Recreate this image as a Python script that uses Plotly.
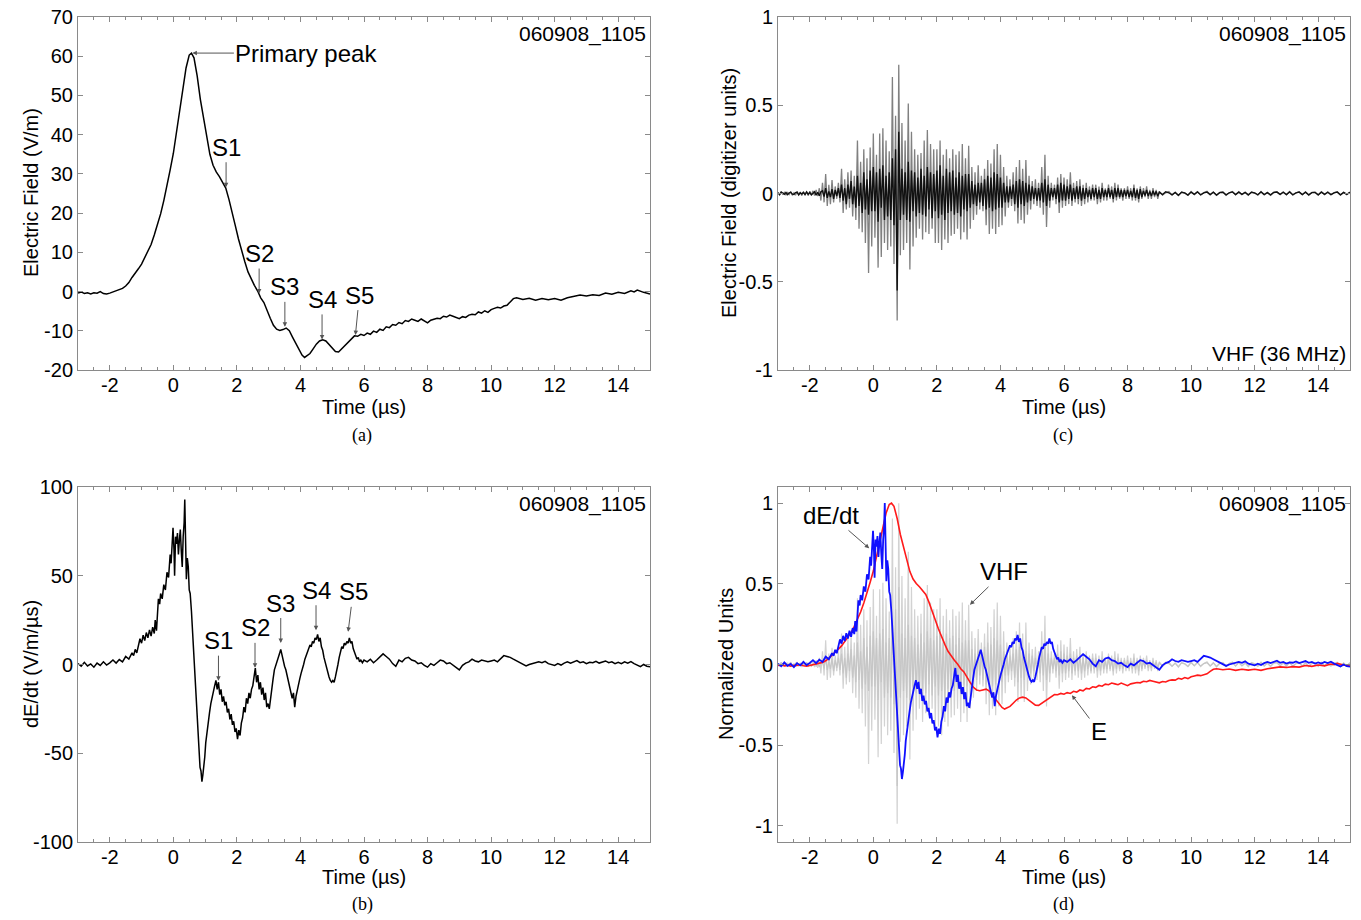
import numpy as np
import plotly.graph_objects as go
from plotly.subplots import make_subplots

# ---------------- data ----------------
# (a) Electric field, V/m
e_t = [-3.0,-2.9,-2.8,-2.7,-2.6,-2.5,-2.4,-2.3,-2.2,-2.1,-2.0,-1.9,-1.8,-1.7,-1.6,-1.5,-1.4,-1.3,-1.2,-1.1,
       -1.0,-0.9,-0.8,-0.7,-0.6,-0.5,-0.4,-0.3,-0.2,-0.1,0.0,0.1,0.2,0.3,0.4,0.5,0.57,0.65,0.75,0.85,
       0.95,1.05,1.15,1.25,1.35,1.45,1.55,1.65,1.75,1.85,1.95,2.05,2.15,2.25,2.35,2.45,2.55,2.65,2.75,2.85,
       2.95,3.05,3.15,3.25,3.35,3.45,3.55,3.65,3.75,3.85,3.95,4.05,4.13,4.2,4.3,4.4,4.5,4.6,4.7,4.8,
       4.9,5.0,5.1,5.2,5.3,5.4,5.5,5.6,5.7,5.8,5.9,6.0,6.1,6.2,6.3,6.4,6.5,6.6,6.7,6.8,
       6.9,7.0,7.1,7.2,7.3,7.4,7.5,7.6,7.7,7.8,7.9,8.0,8.1,8.2,8.3,8.4,8.5,8.6,8.7,8.8,
       8.9,9.0,9.1,9.2,9.3,9.4,9.5,9.6,9.7,9.8,9.9,10.0,10.1,10.2,10.3,10.4,10.5,10.6,10.7,10.8,
       10.9,11.0,11.2,11.4,11.6,11.8,12.0,12.2,12.4,12.6,12.8,13.0,13.2,13.4,13.6,13.8,14.0,14.2,14.4,14.5,
       14.6,14.8,15.0]
e_v = [-0.4,-0.1,-0.5,-0.3,-0.6,-0.3,-0.4,0.0,-0.5,-0.6,-0.4,-0.1,0.1,0.4,0.8,1.4,2.3,3.6,4.6,5.8,
       7.0,8.6,10.0,12.0,14.4,16.8,19.8,23.2,26.8,31.0,35.2,40.6,46.0,52.0,57.0,60.3,60.8,59.6,55.0,49.0,
       44.0,39.5,35.0,32.2,30.5,29.3,27.8,26.4,23.5,20.4,16.8,13.4,10.2,7.6,5.0,3.2,1.6,0.2,-1.6,-2.8,
       -5.0,-6.8,-8.6,-9.6,-9.9,-9.7,-9.3,-10.0,-11.6,-13.2,-14.8,-16.2,-16.8,-16.4,-15.8,-14.6,-13.4,-12.6,-12.3,-12.6,
       -13.5,-14.6,-15.3,-15.4,-14.6,-13.7,-12.8,-12.0,-11.3,-11.4,-10.9,-11.2,-10.6,-10.9,-10.1,-10.4,-9.6,-9.9,-9.0,-9.2,
       -8.4,-8.6,-7.9,-8.2,-7.4,-7.6,-7.0,-7.3,-7.6,-7.0,-7.6,-8.0,-7.3,-7.1,-6.8,-6.9,-6.3,-6.5,-6.0,-6.3,
       -6.6,-6.9,-6.4,-6.6,-6.0,-5.8,-5.9,-5.2,-5.5,-4.9,-5.3,-4.6,-4.3,-4.0,-4.2,-3.7,-3.5,-2.6,-1.8,-1.6,
       -1.9,-2.0,-1.7,-2.2,-1.8,-2.1,-1.8,-2.2,-1.6,-1.2,-0.9,-1.1,-0.8,-1.0,-0.4,-0.7,-0.2,-0.5,0.2,-0.1,
       0.4,-0.2,-0.6]

# (b) dE/dt, V/m/us
d_t = [-3.0,-2.9,-2.8,-2.7,-2.6,-2.5,-2.4,-2.3,-2.2,-2.1,-2.0,-1.9,-1.8,-1.7,-1.6,-1.5,-1.4,-1.3,-1.25,-1.2,
       -1.15,-1.1,-1.05,-1.0,-0.95,-0.9,-0.85,-0.8,-0.75,-0.7,-0.65,-0.6,-0.57,-0.53,-0.5,-0.47,-0.43,-0.4,-0.35,-0.3,
       -0.25,-0.2,-0.15,-0.1,-0.07,-0.04,-0.01,0.02,0.04,0.07,0.1,0.13,0.16,0.19,0.22,0.25,0.28,0.31,0.34,0.36,
       0.38,0.41,0.44,0.47,0.5,0.53,0.57,0.6,0.64,0.68,0.72,0.75,0.78,0.81,0.84,0.87,0.9,0.93,0.96,0.99,
       1.02,1.06,1.1,1.14,1.18,1.22,1.26,1.3,1.34,1.38,1.42,1.46,1.5,1.54,1.58,1.62,1.66,1.7,1.74,1.78,
       1.82,1.86,1.9,1.94,1.98,2.02,2.06,2.1,2.14,2.18,2.22,2.26,2.3,2.34,2.38,2.42,2.46,2.5,2.54,2.58,
       2.62,2.66,2.7,2.74,2.78,2.82,2.86,2.9,2.94,2.98,3.02,3.06,3.1,3.14,3.18,3.22,3.26,3.3,3.34,3.38,
       3.42,3.46,3.5,3.54,3.58,3.62,3.66,3.7,3.74,3.78,3.82,3.86,3.9,3.94,3.98,4.02,4.06,4.1,4.14,4.18,
       4.22,4.26,4.3,4.34,4.38,4.42,4.46,4.5,4.54,4.58,4.62,4.66,4.7,4.74,4.78,4.82,4.86,4.9,4.94,4.98,
       5.02,5.06,5.1,5.14,5.18,5.22,5.26,5.3,5.34,5.38,5.42,5.46,5.5,5.54,5.58,5.62,5.66,5.7,5.74,5.78,
       5.82,5.86,5.9,5.95,6.0,6.1,6.2,6.3,6.4,6.5,6.6,6.7,6.8,6.9,7.0,7.1,7.2,7.3,7.4,7.5,
       7.6,7.7,7.8,7.9,8.0,8.1,8.2,8.3,8.4,8.5,8.6,8.7,8.8,8.9,9.0,9.1,9.2,9.3,9.4,9.5,
       9.6,9.7,9.8,9.9,10.0,10.1,10.2,10.3,10.4,10.5,10.6,10.7,10.8,10.9,11.0,11.1,11.2,11.3,11.4,11.5,
       11.6,11.7,11.8,11.9,12.0,12.1,12.2,12.3,12.4,12.5,12.6,12.7,12.8,12.9,13.0,13.1,13.2,13.3,13.4,13.5,
       13.6,13.7,13.8,13.9,14.0,14.1,14.2,14.3,14.4,14.5,14.6,14.7,14.8,14.9,15.0]
d_v = [0.5,-1.0,1.2,-0.8,0.3,-1.5,0.8,-0.5,1.5,-0.3,0.9,2.5,0.8,2.8,1.5,4.5,3.0,6.5,5.0,8.5,
       6.5,11.0,14.5,12.0,16.5,13.5,18.0,15.0,19.5,16.0,21.0,17.5,25.0,19.0,30.0,37.0,34.0,40.0,37.0,45.0,
       42.0,52.0,49.0,62.0,57.0,70.0,77.0,65.0,50.0,72.0,68.0,74.0,62.0,70.0,76.0,64.0,55.0,72.0,80.0,93.0,
       70.0,48.0,60.0,55.0,42.0,40.0,30.0,20.0,5.0,-8.0,-20.0,-30.0,-42.0,-50.0,-58.0,-60.0,-66.0,-62.0,-58.0,-52.0,
       -44.0,-38.0,-30.0,-27.0,-22.0,-18.0,-16.0,-12.0,-9.0,-14.0,-10.0,-17.0,-14.0,-21.0,-18.0,-23.0,-21.0,-27.0,-25.0,-31.0,
       -28.0,-34.0,-32.0,-38.0,-36.0,-42.0,-37.0,-40.0,-33.0,-30.0,-24.0,-27.0,-19.0,-22.0,-16.0,-19.0,-14.0,-12.0,-7.0,-2.0,
       -10.0,-6.0,-14.0,-10.0,-17.0,-13.0,-20.0,-16.0,-24.0,-22.0,-25.0,-18.0,-14.0,-8.0,-3.0,-1.0,2.0,4.0,6.0,8.5,
       5.0,2.0,-1.0,-3.0,-6.0,-9.0,-12.0,-15.0,-19.0,-16.0,-24.0,-18.0,-14.0,-11.0,-8.0,-5.0,-3.0,0.0,3.0,5.0,
       7.0,9.0,11.0,10.0,13.0,12.0,15.0,14.0,17.0,13.0,15.0,10.0,8.0,4.0,1.0,-2.0,-5.0,-7.0,-9.0,-10.0,
       -9.0,-10.0,-7.0,-4.0,0.0,4.0,8.0,10.0,9.0,12.0,11.0,13.0,12.0,15.0,12.0,13.0,9.0,7.0,5.0,3.0,
       4.0,1.5,2.5,1.0,2.5,1.5,3.0,1.0,2.5,4.0,6.0,4.5,3.0,0.5,-1.0,2.5,1.5,3.5,4.0,2.5,
       2.0,0.5,1.0,-0.5,-1.5,0.5,-0.5,1.0,2.5,2.0,0.5,1.0,-0.5,-1.5,-3.0,-0.5,0.8,1.5,3.0,2.0,
       1.5,2.5,2.0,1.5,2.0,2.5,1.5,3.0,5.0,4.5,4.0,3.0,2.0,1.0,0.0,-0.8,0.0,0.5,0.8,1.5,
       1.0,1.8,0.5,-0.2,-0.5,0.5,-0.3,0.8,1.5,0.8,1.5,2.2,1.0,1.5,0.5,1.2,1.0,1.8,0.8,1.5,
       2.0,1.0,1.5,0.5,1.2,0.5,1.5,0.8,1.6,0.5,-0.5,-1.2,0.0,-1.0,-1.2]

# (c) VHF (36 MHz), digitizer units: outer (grey) excursions, 0.05 us steps from -3 us to 9 us
vhf_outer = [
    0.005,-0.008,0.01,-0.004,0.006,-0.01,0.008,-0.006,0.01,-0.008,0.004,-0.01,0.012,-0.006,0.008,-0.012,0.01,-0.005,0.009,-0.011,
    0.012,-0.008,0.015,-0.012,0.02,-0.015,0.03,-0.04,0.06,-0.05,0.11,-0.07,0.05,-0.06,0.076,-0.05,0.04,-0.03,0.06,-0.05,
    0.14,-0.11,0.08,-0.09,0.12,-0.08,0.13,-0.13,0.10,-0.15,0.30,-0.20,0.18,-0.22,0.25,-0.28,0.20,-0.45,0.26,-0.30,
    0.34,-0.25,0.22,-0.42,0.34,-0.36,0.37,-0.28,0.30,-0.32,0.24,-0.30,0.66,-0.40,0.44,-0.72,0.73,-0.35,0.40,-0.32,
    0.30,-0.28,0.51,-0.43,0.35,-0.30,0.25,-0.25,0.22,-0.20,0.23,-0.26,0.30,-0.22,0.36,-0.23,0.28,-0.20,0.25,-0.28,
    0.25,-0.28,0.30,-0.32,0.22,-0.26,0.25,-0.28,0.20,-0.24,0.25,-0.23,0.22,-0.20,0.24,-0.26,0.28,-0.22,0.20,-0.26,
    0.27,-0.20,0.15,-0.15,0.12,-0.12,0.16,-0.09,0.10,-0.10,0.14,-0.18,0.19,-0.23,0.17,-0.20,0.25,-0.23,0.28,-0.19,
    0.22,-0.18,0.15,-0.13,0.10,-0.08,0.08,-0.07,0.12,-0.10,0.15,-0.17,0.19,-0.15,0.14,-0.17,0.19,-0.12,0.10,-0.09,
    0.07,-0.06,0.08,-0.07,0.06,-0.08,0.15,-0.12,0.22,-0.19,0.10,-0.08,0.06,-0.04,0.05,-0.06,0.09,-0.11,0.11,-0.08,
    0.09,-0.07,0.08,-0.06,0.12,-0.07,0.06,-0.05,0.07,-0.06,0.08,-0.07,0.05,-0.06,0.06,-0.05,0.04,-0.04,0.05,-0.04,
    0.05,-0.06,0.04,-0.05,0.06,-0.04,0.03,-0.04,0.05,-0.03,0.04,-0.05,0.06,-0.04,0.05,-0.03,0.03,-0.04,0.03,-0.03,
    0.04,-0.03,0.03,-0.04,0.05,-0.04,0.03,-0.05,0.04,-0.03,0.03,-0.02,0.04,-0.03,0.02,-0.03,0.03,-0.02,0.02,-0.03]
# outer trace tail, 0.1 us steps from 9 us to 15 us
vhf_outer_tail = [
    0.012,-0.009,0.004,0.011,-0.008,0.006,-0.012,0.009,0.003,-0.01,0.011,-0.006,0.01,-0.009,0.005,0.012,-0.007,0.008,-0.011,0.006,
    0.009,-0.01,0.004,0.011,-0.007,0.01,-0.006,0.007,-0.01,0.009,0.003,-0.009,0.011,-0.007,0.006,-0.01,0.007,0.01,-0.006,0.009,
    -0.007,0.011,-0.009,0.004,0.01,-0.007,0.009,-0.01,0.006,0.007,-0.009,0.01,-0.006,0.009,-0.007,0.005,0.01,-0.009,0.007,-0.006,0.009]
# dense (black) core of the VHF record, 0.05 us steps from -3 us to 9 us
vhf_core = [
    0.004,-0.006,0.008,0.002,-0.005,0.006,-0.007,0.003,0.008,-0.004,-0.006,0.005,0.007,-0.008,0.004,-0.003,0.006,-0.007,0.009,-0.005,
    0.006,-0.008,0.003,0.01,-0.009,0.007,-0.012,0.01,0.015,-0.018,0.03,-0.025,0.012,-0.02,0.025,-0.03,0.02,-0.015,0.03,-0.025,
    0.05,-0.04,0.03,-0.06,0.05,-0.03,0.07,-0.06,0.04,-0.08,0.10,-0.07,0.06,-0.11,0.12,-0.09,0.08,-0.12,0.13,-0.10,
    0.15,-0.10,0.12,-0.16,0.14,-0.08,0.16,-0.15,0.10,-0.13,0.12,-0.15,0.20,-0.18,0.25,-0.55,0.35,-0.15,0.14,-0.12,
    0.12,-0.15,0.18,-0.16,0.13,-0.10,0.12,-0.13,0.09,-0.11,0.14,-0.12,0.10,-0.13,0.15,-0.09,0.12,-0.14,0.11,-0.10,
    0.13,-0.14,0.16,-0.12,0.10,-0.15,0.14,-0.11,0.12,-0.10,0.13,-0.12,0.09,-0.11,0.12,-0.13,0.10,-0.09,0.11,-0.10,
    0.11,-0.08,0.07,-0.06,0.05,-0.07,0.06,-0.05,0.06,-0.07,0.08,-0.09,0.10,-0.08,0.09,-0.10,0.12,-0.09,0.11,-0.08,
    0.09,-0.08,0.06,-0.05,0.04,-0.05,0.04,-0.03,0.05,-0.06,0.07,-0.08,0.08,-0.06,0.07,-0.07,0.06,-0.05,0.05,-0.04,
    0.04,-0.03,0.03,-0.04,0.03,-0.04,0.06,-0.05,0.08,-0.07,0.05,-0.04,0.03,-0.02,0.03,-0.03,0.05,-0.05,0.06,-0.04,
    0.05,-0.04,0.04,-0.03,0.05,-0.04,0.03,-0.03,0.04,-0.03,0.04,-0.04,0.03,-0.03,0.03,-0.02,0.02,-0.03,0.03,-0.02,
    0.03,-0.03,0.02,-0.03,0.03,-0.02,0.02,-0.02,0.03,-0.02,0.02,-0.03,0.03,-0.02,0.03,-0.02,0.02,-0.02,0.02,-0.015,
    0.02,-0.02,0.015,-0.02,0.03,-0.025,0.02,-0.03,0.025,-0.02,0.015,-0.012,0.02,-0.015,0.012,-0.015,0.015,-0.01,0.012,-0.015]
# core tail, 0.1 us steps from 9 us to 15 us
vhf_core_tail = [
    0.008,-0.006,0.01,0.004,-0.008,0.006,-0.01,0.007,0.003,-0.009,0.008,-0.005,0.009,-0.007,0.004,0.008,-0.006,0.007,-0.009,0.005,
    0.007,-0.008,0.004,0.009,-0.006,0.008,-0.005,0.006,-0.008,0.007,0.003,-0.007,0.009,-0.006,0.005,-0.008,0.006,0.008,-0.005,0.007,
    -0.006,0.009,-0.007,0.004,0.008,-0.006,0.007,-0.008,0.005,0.006,-0.007,0.008,-0.005,0.007,-0.006,0.004,0.008,-0.007,0.006,-0.005,0.007]

x_ticks = [-2, 0, 2, 4, 6, 8, 10, 12, 14]
x_labels = ["-2", "0", "2", "4", "6", "8", "10", "12", "14"]
ya_ticks = [-20, -10, 0, 10, 20, 30, 40, 50, 60, 70]
ya_labels = ["-20", "-10", "0", "10", "20", "30", "40", "50", "60", "70"]
yb_ticks = [-100, -50, 0, 50, 100]
yb_labels = ["-100", "-50", "0", "50", "100"]
yn_ticks = [-1, -0.5, 0, 0.5, 1]
yn_labels = ["-1", "-0.5", "0", "0.5", "1"]
event_id = "060908_1105"

# time bases for the VHF lists
vhf_outer_t = list(-3.0 + 0.05 * np.arange(len(vhf_outer))) + list(9.0 + 0.1 * np.arange(len(vhf_outer_tail)))
vhf_outer_all = vhf_outer + vhf_outer_tail
vhf_core_t = list(-3.0 + 0.05 * np.arange(len(vhf_core))) + list(9.0 + 0.1 * np.arange(len(vhf_core_tail)))
vhf_core_all = vhf_core + vhf_core_tail

# normalised versions for panel (d)
e_n = np.array(e_v) / max(e_v)
d_n = np.array(d_v) / max(d_v)
vmax = max(abs(v) for v in vhf_outer_all)
vo_n = np.array(vhf_outer_all) / vmax
vc_n = np.array(vhf_core_all) / vmax

# ---------------- figure ----------------
FONT = "Arial, Liberation Sans, sans-serif"
TS = 20
W, H = 1361, 920
OFF = 8  # page body margin in the browser
fig = make_subplots(rows=2, cols=2)

fig.add_trace(go.Scatter(x=e_t, y=e_v, mode="lines", line=dict(color="black", width=1.5)), row=1, col=1)
fig.add_trace(go.Scatter(x=vhf_outer_t, y=vhf_outer_all, mode="lines", line=dict(color="#808080", width=1.3)), row=1, col=2)
fig.add_trace(go.Scatter(x=vhf_core_t, y=vhf_core_all, mode="lines", line=dict(color="#111111", width=1.4)), row=1, col=2)
fig.add_trace(go.Scatter(x=d_t, y=d_v, mode="lines", line=dict(color="black", width=1.5)), row=2, col=1)
fig.add_trace(go.Scatter(x=vhf_outer_t, y=vo_n, mode="lines", line=dict(color="#d2d2d2", width=1.2)), row=2, col=2)
fig.add_trace(go.Scatter(x=vhf_core_t, y=vc_n, mode="lines", line=dict(color="#c6c6c6", width=1.2)), row=2, col=2)
fig.add_trace(go.Scatter(x=e_t, y=e_n, mode="lines", line=dict(color="#ff1a1a", width=1.6)), row=2, col=2)
fig.add_trace(go.Scatter(x=d_t, y=d_n, mode="lines", line=dict(color="#1010ff", width=1.8)), row=2, col=2)


def px_x(p):
    return (p - OFF) / W


def px_y(p):
    return 1 - (p - OFF) / H


xd1 = [px_x(78), px_x(650)]
xd2 = [px_x(778), px_x(1350)]
yd1 = [px_y(370), px_y(17)]
yd2 = [px_y(842), px_y(487)]

axcol = "#8a8a8a"
tfont = dict(family=FONT, size=TS, color="black")
common_x = dict(range=[-3, 15], tickmode="array", tickvals=x_ticks, ticktext=x_labels, ticks="inside", ticklen=5,
                tickcolor=axcol, showline=True, linecolor=axcol, linewidth=1, mirror="ticks",
                showgrid=False, zeroline=False, tickfont=tfont, automargin=False, ticklabeloverflow="allow",
                ticklabelstandoff=-3,
                minor=dict(dtick=0.5, tick0=0, ticks="inside", ticklen=3, tickcolor=axcol, showgrid=False))
common_y = dict(ticks="inside", ticklen=5, tickcolor=axcol, showline=True, linecolor=axcol, linewidth=1,
                mirror="ticks", showgrid=False, zeroline=False, tickfont=tfont, automargin=False,
                ticklabeloverflow="allow", tickmode="array")

fig.update_layout(
    width=W, height=H, margin=dict(l=0, r=0, t=0, b=0),
    paper_bgcolor="white", plot_bgcolor="white", showlegend=False,
    xaxis=dict(domain=xd1, **common_x), xaxis2=dict(domain=xd2, **common_x),
    xaxis3=dict(domain=xd1, **common_x), xaxis4=dict(domain=xd2, **common_x),
    yaxis=dict(domain=yd1, range=[-20, 70], tickvals=ya_ticks, ticktext=ya_labels, **common_y),
    yaxis2=dict(domain=yd1, range=[-1, 1], tickvals=yn_ticks, ticktext=yn_labels, **common_y),
    yaxis3=dict(domain=yd2, range=[-100, 100], tickvals=yb_ticks, ticktext=yb_labels, **common_y),
    yaxis4=dict(domain=yd2, range=[-1.1, 1.1], tickvals=yn_ticks, ticktext=yn_labels, **common_y),
)

anns = []
# axis titles placed as text
for txt, cx, cy in [("Time (µs)", 364, 407), ("Time (µs)", 1064, 407),
                    ("Time (µs)", 364, 877), ("Time (µs)", 1064, 877)]:
    anns.append(dict(text=txt, xref="paper", yref="paper", x=px_x(cx), y=px_y(cy),
                     xanchor="center", yanchor="middle", showarrow=False, font=tfont))
for txt, cx, cy in [("Electric Field (V/m)", 31, 193), ("Electric Field (digitizer units)", 729, 193),
                    ("dE/dt (V/m/µs)", 31, 664), ("Normalized Units", 726, 664)]:
    anns.append(dict(text=txt, xref="paper", yref="paper", x=px_x(cx), y=px_y(cy), textangle=-90,
                     xanchor="center", yanchor="middle", showarrow=False, font=tfont))

# event id in every panel
for xr, yr in [("x", "y"), ("x2", "y2"), ("x3", "y3"), ("x4", "y4")]:
    anns.append(dict(text=event_id, xref=xr + " domain", yref=yr + " domain", x=0.997, y=0.992,
                     xanchor="right", yanchor="top", showarrow=False,
                     font=dict(family=FONT, size=21, color="black")))
anns.append(dict(text="VHF (36 MHz)", xref="x2 domain", yref="y2 domain", x=0.997, y=0.008,
                 xanchor="right", yanchor="bottom", showarrow=False,
                 font=dict(family=FONT, size=21, color="black")))

arrow = dict(showarrow=True, arrowhead=2, arrowsize=0.9, arrowwidth=1, arrowcolor="#555555",
             font=dict(family=FONT, size=24, color="black"))
# panel (a)
anns.append(dict(text="Primary peak", xref="x", yref="y", x=0.6, y=60.8, ax=114, ay=0, **arrow))
for lab, tx, ty, dx in [("S1", 1.66, 26.6, 0), ("S2", 2.7, -0.5, 0), ("S3", 3.51, -9.0, 0),
                        ("S4", 4.68, -12.2, 0), ("S5", 5.73, -11.1, 4)]:
    anns.append(dict(text=lab, xref="x", yref="y", x=tx, y=ty, ax=dx, ay=-40, **arrow))
# panel (b)
for lab, tx, ty, dx in [("S1", 1.42, -9.1, 0), ("S2", 2.57, -1.9, 0), ("S3", 3.38, 12.1, 0),
                        ("S4", 4.49, 19.3, 0), ("S5", 5.5, 18.4, 5)]:
    anns.append(dict(text=lab, xref="x3", yref="y3", x=tx, y=ty, ax=dx, ay=-40, **arrow))
# panel (d)
anns.append(dict(text="dE/dt", xref="x4", yref="y4", x=-0.13, y=0.72, ax=-38, ay=-33, **arrow))
anns.append(dict(text="VHF", xref="x4", yref="y4", x=3.04, y=0.37, ax=34, ay=-33, **arrow))
anns.append(dict(text="E", xref="x4", yref="y4", x=6.25, y=-0.19, ax=27, ay=36, **arrow))

# panel captions
for cap, cx, cy in [("(a)", 362, 435), ("(c)", 1063, 435), ("(b)", 362, 904), ("(d)", 1063, 904)]:
    anns.append(dict(text=cap, xref="paper", yref="paper", x=px_x(cx), y=px_y(cy),
                     xanchor="center", yanchor="middle", showarrow=False,
                     font=dict(family="Liberation Serif, Times New Roman, serif", size=18, color="black")))

fig.update_layout(annotations=anns)
fig.write_html("out.html")
